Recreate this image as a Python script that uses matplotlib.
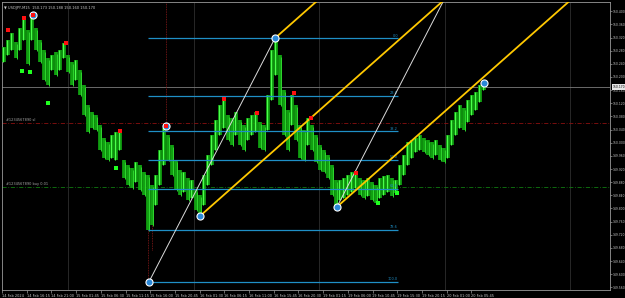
import numpy as np
import matplotlib.pyplot as plt
from matplotlib.transforms import blended_transform_factory

# chart title (symbol, timeframe, last OHLC)
title_text = "USDJPY,M15  150.173 150.188 150.160 150.170"

# price bars (each entry ~ three M15 bars), high / low
highs = [150.291, 150.312, 150.334, 150.306, 150.349, 150.379, 150.343, 150.388, 150.349, 150.312,
         150.282, 150.258, 150.267, 150.276, 150.282, 150.303, 150.267, 150.246, 150.252, 150.221,
         150.176, 150.115, 150.094, 150.084, 150.054, 150.014, 150.002, 150.024, 150.033, 150.039,
         149.948, 149.932, 149.923, 149.942, 149.932, 149.911, 149.902, 149.872, 149.902, 149.978,
         150.045, 150.024, 149.993, 149.948, 149.917, 149.911, 149.893, 149.887, 149.856, 149.841,
         149.902, 149.963, 150.024, 150.069, 150.115, 150.130, 150.084, 150.075, 150.094, 150.069,
         150.054, 150.075, 150.084, 150.094, 150.063, 150.054, 150.145, 150.282, 150.318, 150.267,
         150.160, 150.100, 150.145, 150.115, 150.054, 150.039, 150.075, 150.054, 150.024, 149.993,
         149.978, 149.963, 149.932, 149.887, 149.887, 149.893, 149.902, 149.911, 149.908, 149.893,
         149.887, 149.893, 149.881, 149.872, 149.893, 149.899, 149.902, 149.893, 149.887, 149.932,
         149.963, 150.002, 150.008, 150.014, 150.024, 150.014, 150.008, 150.002, 150.008, 149.993,
         149.984, 150.024, 150.069, 150.094, 150.115, 150.106, 150.130, 150.145, 150.154, 150.176,
         150.182]
lows = [150.246, 150.267, 150.282, 150.258, 150.282, 150.312, 150.239, 150.312, 150.282, 150.246,
        150.191, 150.176, 150.221, 150.206, 150.221, 150.258, 150.215, 150.176, 150.191, 150.145,
        150.084, 150.033, 150.045, 150.039, 149.978, 149.954, 149.948, 149.954, 149.948, 149.978,
        149.893, 149.872, 149.862, 149.881, 149.856, 149.841, 149.735, 149.750, 149.811, 149.872,
        149.932, 149.948, 149.902, 149.856, 149.841, 149.850, 149.826, 149.832, 149.796, 149.777,
        149.811, 149.872, 149.932, 149.978, 150.024, 150.045, 150.008, 149.993, 150.024, 149.993,
        149.978, 150.008, 150.024, 150.033, 149.984, 149.978, 150.039, 150.130, 150.206, 150.115,
        150.024, 149.978, 150.054, 150.008, 149.954, 149.948, 149.993, 149.978, 149.942, 149.917,
        149.911, 149.893, 149.841, 149.805, 149.826, 149.832, 149.841, 149.850, 149.862, 149.841,
        149.832, 149.838, 149.826, 149.817, 149.832, 149.841, 149.850, 149.838, 149.847, 149.872,
        149.902, 149.932, 149.954, 149.972, 149.978, 149.972, 149.963, 149.954, 149.963, 149.948,
        149.942, 149.954, 149.993, 150.024, 150.045, 150.039, 150.063, 150.084, 150.100, 150.124,
        150.160]

time_labels = ["14 Feb 2024", "14 Feb 16:15", "14 Feb 21:00", "15 Feb 01:45", "15 Feb 06:30",
               "15 Feb 11:15", "15 Feb 16:00", "15 Feb 20:45", "16 Feb 01:30", "16 Feb 06:15",
               "16 Feb 11:00", "16 Feb 15:45", "16 Feb 20:30", "19 Feb 01:15", "19 Feb 06:00",
               "19 Feb 10:45", "19 Feb 15:30", "19 Feb 20:15", "20 Feb 01:00", "20 Feb 05:45"]

bid_price = 150.170
sl_price = 150.060
buy_price = 149.866
order_sl_label = "#1234567890 sl"
order_buy_label = "#1234567890 buy 0.01"

# fibonacci retracement anchors (bar, price)
fib_low = (36.25, 149.577)
fib_high = (67.75, 150.318)
fib_levels = [0.0, 23.6, 38.2, 50.0, 61.8, 78.6, 100.0]

# pivot points marked with circles
pivot_x = [36.25, 49.0, 67.75, 83.25, 120.0, 40.5, 7.25]
pivot_y = [149.577, 149.777, 150.318, 149.805, 150.182, 150.051, 150.388]

# fractals
red_x = [1, 5, 7.25, 15.5, 29, 40.5, 55, 63.25, 72.5, 76.75, 88]
red_y = [150.343, 150.379, 150.388, 150.303, 150.036, 150.051, 150.133, 150.090, 150.151, 150.075, 149.908]
green_x = [4.5, 6.5, 11, 28, 93.5, 98.25]
green_y = [150.218, 150.215, 150.121, 149.923, 149.817, 149.847]

# channel lines: yellow start points, slope in price per bar
yellow_starts = [(67.75, 150.318), (49.0, 149.777), (83.25, 149.805)]
yellow_slope = 0.01077
white_second_start = (83.25, 149.805)

# ---------------------------------------------------------------
bg = 'black'
grey = '#9a9a9a'
fib_col = '#1f8fc6'

fig = plt.figure(figsize=(6.25, 2.98), dpi=100)
fig.patch.set_facecolor(bg)
ax = fig.add_axes([2 / 625, 8 / 298, 608 / 625, 288 / 298])
ax.set_facecolor(bg)

x_lo, x_hi = -0.5, 151.5
y_lo, y_hi = 149.552, 150.428
ax.set_xlim(x_lo, x_hi)
ax.set_ylim(y_lo, y_hi)

# day separators
for d in range(5):
    ax.axvline((66 + 125.5 * d) / 4 - 0.5, color='#5c5c5c', lw=0.6, ls=(0, (1.2, 1.2)), zorder=1)

# order lines and bid line
ax.axhline(sl_price, color='#8a1010', lw=0.6, ls=(0, (5, 2, 1, 2)), zorder=1)
ax.axhline(buy_price, color='#107a10', lw=0.6, ls=(0, (5, 2, 1, 2)), zorder=1)
ax.axhline(bid_price, color='#7c7c7c', lw=0.6, zorder=1)
ax.text(0.5, sl_price + 0.003, order_sl_label, color='#a8a8a8', fontsize=2.5, va='bottom', ha='left')
ax.text(0.5, buy_price + 0.003, order_buy_label, color='#a8a8a8', fontsize=2.5, va='bottom', ha='left')

# price bars
x = np.arange(len(highs))
h = np.array(highs)
l = np.array(lows)
mid = (h + l) / 2
up = np.r_[True, mid[1:] >= mid[:-1]]
ax.vlines(x, l, h, color='#11a011', lw=2.7, zorder=3)
ax.vlines(x[up] - 0.2, l[up], h[up], color='#4cff4c', lw=0.8, zorder=4)
ax.vlines(x[~up] + 0.25, l[~up] - 0.004, h[~up] - 0.006, color='#2ed62e', lw=0.7, zorder=4)

# trade history dotted lines
ax.vlines([36.0], [149.577], [149.856], color='#8b1a1a', lw=0.6, ls=(0, (1, 1)), zorder=2)
ax.vlines([37.0], [149.674], [149.765], color='#8b1a1a', lw=0.6, ls=(0, (1, 1)), zorder=2)
ax.vlines([40.5], [150.051], [y_hi], color='#8b1a1a', lw=0.6, ls=(0, (1, 1)), zorder=2)

# fibonacci levels
fib_right = 98.5
rng = fib_high[1] - fib_low[1]
for lev in fib_levels:
    p = fib_high[1] - rng * lev / 100
    ax.hlines(p, fib_low[0] - 0.25, fib_right, color=fib_col, lw=0.9, zorder=5)
    ax.text(fib_right, p + 0.002, f"{lev:.1f}", color=fib_col, fontsize=2.5, ha='right', va='bottom', zorder=5)

# white parallel lines
w_slope = (fib_high[1] - fib_low[1]) / (fib_high[0] - fib_low[0])
ax.plot([fib_low[0], fib_high[0]], [fib_low[1], fib_high[1]], color='#dcdcdc', lw=0.7, zorder=6)
x_end = white_second_start[0] + (y_hi - white_second_start[1]) / w_slope
ax.plot([white_second_start[0], x_end], [white_second_start[1], y_hi], color='#dcdcdc', lw=0.7, zorder=6)

# yellow parallel lines
for sx, sy in yellow_starts:
    ex = sx + (y_hi - sy) / yellow_slope
    ax.plot([sx, ex], [sy, y_hi], color='#ffc800', lw=1.3, zorder=6)

# fractals and pivots
ax.scatter(pivot_x, pivot_y, s=26, facecolor='#2a88d8', edgecolor='white', linewidth=0.8, zorder=7)
ax.scatter(red_x, red_y, s=5, marker='s', color='#ff1010', linewidth=0, zorder=8)
ax.scatter(green_x, green_y, s=5, marker='s', color='#20ff20', linewidth=0, zorder=8)

# title
ax.text(0.004, 0.985, "\u25bc " + title_text, transform=ax.transAxes, color='#c8c8c8',
        fontsize=2.6, ha='left', va='top')

# axes styling
for s in ax.spines.values():
    s.set_color(grey)
    s.set_linewidth(0.6)

ax.set_xticks(np.arange(len(time_labels)) * 6.175 - 0.5)
ax.set_xticklabels(time_labels)
for lab in ax.get_xticklabels():
    lab.set_ha('left')
ax.tick_params(axis='x', colors=grey, labelcolor='#c8c8c8', labelsize=2.5, length=2, width=0.5, pad=1)

yt = np.round(149.56 + 0.04 * np.arange(22), 2)
ax.yaxis.tick_right()
ax.set_yticks(yt)
ax.set_yticklabels([f"{v:.3f}" for v in yt])
ax.tick_params(axis='y', colors=grey, labelcolor='#c8c8c8', labelsize=2.2, length=1.2, width=0.5, pad=0.8)

trans = blended_transform_factory(ax.transAxes, ax.transData)
ax.annotate(f"{bid_price:.3f}", xy=(1, bid_price), xycoords=trans, xytext=(1.6, 0),
            textcoords='offset points', ha='left', va='center', fontsize=2.2, color='black',
            bbox=dict(facecolor='#e6e6e6', edgecolor='none', pad=0.5), zorder=10,
            annotation_clip=False)

fig.savefig('out.png', dpi=100, facecolor=bg)
